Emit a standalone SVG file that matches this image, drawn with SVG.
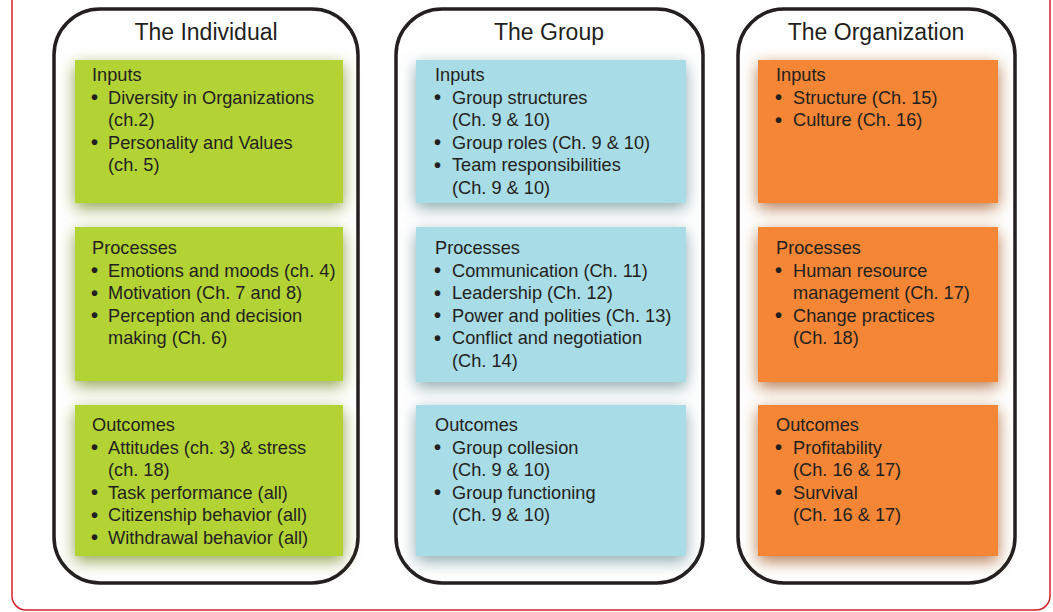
<svg xmlns="http://www.w3.org/2000/svg" width="1053" height="612" viewBox="0 0 1053 612">
<style>
.frame{fill:none;stroke:#d2232a;stroke-width:1.5}
.panel{fill:#fff;stroke:#231f20;stroke-width:3.5}
.title{font-family:"Liberation Sans",Arial,sans-serif;font-size:23px;fill:#231f20;text-anchor:middle}
.t{font-family:"Liberation Sans",Arial,sans-serif;font-size:18.2px;fill:#231f20}
.bu{font-family:"Liberation Sans",Arial,sans-serif;font-size:20px;font-weight:bold;fill:#231f20}
.g{fill:#b3d334}
.b{fill:#a8dce6}
.o{fill:#f48634}
</style>
<defs>
<filter id="sh" x="-20%" y="-25%" width="140%" height="155%">
<feGaussianBlur in="SourceGraphic" stdDeviation="8" result="bl"/>
<feColorMatrix in="bl" type="matrix" values="0.4 0 0 0 0  0 0.4 0 0 0  0 0 0.4 0 0  0 0 0 0.8 0" result="dk"/>
<feOffset in="dk" dx="0" dy="5" result="of"/>
<feMerge><feMergeNode in="of"/><feMergeNode in="SourceGraphic"/></feMerge>
</filter>
</defs>
<rect class="frame" x="12" y="-20" width="1038" height="630" rx="14"/>

<g id="col-individual">
<rect class="panel" x="54" y="9" width="304" height="574" rx="46"/>
<text class="title" x="206" y="40">The Individual</text>
<g id="ind-inputs">
<rect class="g" x="75" y="60" width="268" height="143" filter="url(#sh)"/>
<text class="t" x="92" y="81">Inputs</text>
<text class="bu" x="91" y="104">•</text><text class="t" x="108" y="103.5">Diversity in Organizations</text>
<text class="t" x="108" y="126">(ch.2)</text>
<text class="bu" x="91" y="149">•</text><text class="t" x="108" y="148.5">Personality and Values</text>
<text class="t" x="108" y="171">(ch. 5)</text>
</g>
<g id="ind-processes">
<rect class="g" x="75" y="227" width="268" height="154" filter="url(#sh)"/>
<text class="t" x="92" y="254">Processes</text>
<text class="bu" x="91" y="277">•</text><text class="t" x="108" y="276.5">Emotions and moods (ch. 4)</text>
<text class="bu" x="91" y="299.5">•</text><text class="t" x="108" y="299">Motivation (Ch. 7 and 8)</text>
<text class="bu" x="91" y="322">•</text><text class="t" x="108" y="321.5">Perception and decision</text>
<text class="t" x="108" y="344">making (Ch. 6)</text>
</g>
<g id="ind-outcomes">
<rect class="g" x="75" y="405" width="268" height="151" filter="url(#sh)"/>
<text class="t" x="92" y="431">Outcomes</text>
<text class="bu" x="91" y="454">•</text><text class="t" x="108" y="453.5">Attitudes (ch. 3) &amp; stress</text>
<text class="t" x="108" y="476">(ch. 18)</text>
<text class="bu" x="91" y="499">•</text><text class="t" x="108" y="498.5">Task performance (all)</text>
<text class="bu" x="91" y="521.5">•</text><text class="t" x="108" y="521">Citizenship behavior (all)</text>
<text class="bu" x="91" y="544">•</text><text class="t" x="108" y="543.5">Withdrawal behavior (all)</text>
</g>
</g>

<g id="col-group">
<rect class="panel" x="396" y="9" width="307" height="574" rx="46"/>
<text class="title" x="549" y="40">The Group</text>
<g id="grp-inputs">
<rect class="b" x="416" y="60" width="270" height="143" filter="url(#sh)"/>
<text class="t" x="435" y="81">Inputs</text>
<text class="bu" x="434" y="104">•</text><text class="t" x="452" y="103.5">Group structures</text>
<text class="t" x="452" y="126">(Ch. 9 &amp; 10)</text>
<text class="bu" x="434" y="149">•</text><text class="t" x="452" y="148.5">Group roles (Ch. 9 &amp; 10)</text>
<text class="bu" x="434" y="171.5">•</text><text class="t" x="452" y="171">Team responsibilities</text>
<text class="t" x="452" y="193.5">(Ch. 9 &amp; 10)</text>
</g>
<g id="grp-processes">
<rect class="b" x="416" y="227" width="270" height="155" filter="url(#sh)"/>
<text class="t" x="435" y="254">Processes</text>
<text class="bu" x="434" y="277">•</text><text class="t" x="452" y="276.5">Communication (Ch. 11)</text>
<text class="bu" x="434" y="299.5">•</text><text class="t" x="452" y="299">Leadership (Ch. 12)</text>
<text class="bu" x="434" y="322">•</text><text class="t" x="452" y="321.5">Power and polities (Ch. 13)</text>
<text class="bu" x="434" y="344.5">•</text><text class="t" x="452" y="344">Conflict and negotiation</text>
<text class="t" x="452" y="366.5">(Ch. 14)</text>
</g>
<g id="grp-outcomes">
<rect class="b" x="416" y="405" width="270" height="151" filter="url(#sh)"/>
<text class="t" x="435" y="431">Outcomes</text>
<text class="bu" x="434" y="454">•</text><text class="t" x="452" y="453.5">Group collesion</text>
<text class="t" x="452" y="476">(Ch. 9 &amp; 10)</text>
<text class="bu" x="434" y="499">•</text><text class="t" x="452" y="498.5">Group functioning</text>
<text class="t" x="452" y="521">(Ch. 9 &amp; 10)</text>
</g>
</g>

<g id="col-organization">
<rect class="panel" x="738" y="9" width="277" height="574" rx="46"/>
<text class="title" x="876" y="40">The Organization</text>
<g id="org-inputs">
<rect class="o" x="758" y="60" width="240" height="143" filter="url(#sh)"/>
<text class="t" x="776" y="81">Inputs</text>
<text class="bu" x="775" y="104">•</text><text class="t" x="793" y="103.5">Structure (Ch. 15)</text>
<text class="bu" x="775" y="126.5">•</text><text class="t" x="793" y="126">Culture (Ch. 16)</text>
</g>
<g id="org-processes">
<rect class="o" x="758" y="227" width="240" height="155" filter="url(#sh)"/>
<text class="t" x="776" y="254">Processes</text>
<text class="bu" x="775" y="277">•</text><text class="t" x="793" y="276.5">Human resource</text>
<text class="t" x="793" y="299">management (Ch. 17)</text>
<text class="bu" x="775" y="322">•</text><text class="t" x="793" y="321.5">Change practices</text>
<text class="t" x="793" y="344">(Ch. 18)</text>
</g>
<g id="org-outcomes">
<rect class="o" x="758" y="405" width="240" height="151" filter="url(#sh)"/>
<text class="t" x="776" y="431">Outcomes</text>
<text class="bu" x="775" y="454">•</text><text class="t" x="793" y="453.5">Profitability</text>
<text class="t" x="793" y="476">(Ch. 16 &amp; 17)</text>
<text class="bu" x="775" y="499">•</text><text class="t" x="793" y="498.5">Survival</text>
<text class="t" x="793" y="521">(Ch. 16 &amp; 17)</text>
</g>
</g>
</svg>
